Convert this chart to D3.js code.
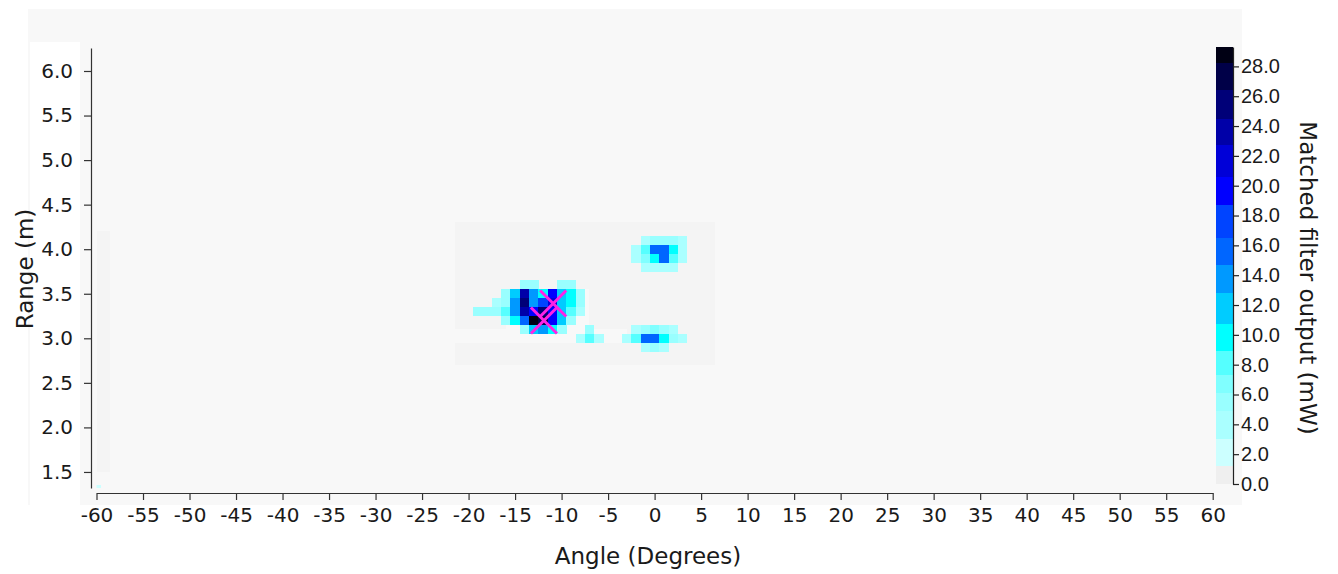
<!DOCTYPE html>
<html>
<head>
<meta charset="utf-8">
<script src="https://cdn.jsdelivr.net/npm/d3@7"></script>
<style>
  html, body { margin: 0; padding: 0; background: #ffffff; }
  svg { display: block; font-family: "DejaVu Sans", Verdana, sans-serif; }
</style>
</head>
<body>
<svg id="chart" width="1338" height="574"></svg>
<script>
// ---------------- DATA ----------------
const xTicks = [-60,-55,-50,-45,-40,-35,-30,-25,-20,-15,-10,-5,0,5,10,15,20,25,30,35,40,45,50,55,60];
const yTicks = [1.5,2.0,2.5,3.0,3.5,4.0,4.5,5.0,5.5,6.0];
const cbTicks = [0,2,4,6,8,10,12,14,16,18,20,22,24,26,28];

// colour band thresholds (mW)
const levels = [1.2,3.0,4.9,6.1,7.3,8.9,10.7,12.8,14.7,16.5,18.7,20.6,22.7,24.5,26.4,28.2];
const bandColors = ["#efefef","#ccffff","#aaffff","#99ffff","#80ffff","#55ffff","#00ffff","#00ccff",
                    "#0099ff","#0066ff","#0044ff","#0000ff","#0000d8","#0000a8","#000078","#000048","#000014"];
const valueMax = 29.3;

// faint low-level returns: [angleFrom, angleTo, rangeFrom, rangeTo, value]
const lowPatches = [
  [-21.5, 6.5, 3.55, 4.3, 0.5],
  [-21.5, -16, 3.1, 3.55, 0.5],
  [-7, 6.5, 3.1, 3.55, 0.5],
  [-21.5, 6.5, 2.7, 2.95, 0.5],
  [-3, 6.5, 2.95, 3.1, 0.5],
  [-60, -58.5, 1.5, 4.2, 0.5]
];

// matched filter output cells: angle (deg), range (m), value (mW)
const cellAngles = [
  -14,-13,-10,-9,
  -16,-15,-14,-13,-12,-11,-10,-9,-8,
  -17,-16,-15,-14,-13,-12,-11,-10,-9,-8,
  -19,-18,-17,-16,-15,-14,-13,-12,-11,-10,-9,-8,
  -16,-15,-14,-13,-12,-11,-10,-9,
  -14,-13,-12,-11,-10,
  -7,
  -8,-7,-6,
  -1,0,1,2,3,
  -2,-1,0,1,2,3,
  -2,-1,0,1,2,3,
  -1,0,1,2,
  -2,-1,0,1,2,
  -3,-2,-1,0,1,2,3,
  -1,0,1,
  -60
];
const cellRanges = [
  3.6,3.6,3.6,3.6,
  3.5,3.5,3.5,3.5,3.5,3.5,3.5,3.5,3.5,
  3.4,3.4,3.4,3.4,3.4,3.4,3.4,3.4,3.4,3.4,
  3.3,3.3,3.3,3.3,3.3,3.3,3.3,3.3,3.3,3.3,3.3,3.3,
  3.2,3.2,3.2,3.2,3.2,3.2,3.2,3.2,
  3.1,3.1,3.1,3.1,3.1,
  3.1,
  3.0,3.0,3.0,
  4.1,4.1,4.1,4.1,4.1,
  4.0,4.0,4.0,4.0,4.0,4.0,
  3.9,3.9,3.9,3.9,3.9,3.9,
  3.8,3.8,3.8,3.8,
  3.1,3.1,3.1,3.1,3.1,
  3.0,3.0,3.0,3.0,3.0,3.0,3.0,
  2.9,2.9,2.9,
  1.3
];
const cellValues = [
  5,6,6,5,
  5,12,24,13,10,19,12,9,5,
  4,6,13,25,14,17,21,12,9,5,
  5,5,6,8,13,24,20,25,20,12,8,4,
  5,9,16,29,28,19,11,6,
  6,12,14,10,5,
  5,
  4,8,4,
  4,6,6,5,3,
  4,8,16,16,9,4,
  3,7,10,15,8,4,
  3,4,4,3,
  3,6,7,5,3,
  4,8,15,15,10,6,4,
  4,5,4,
  2
];

// detected targets (magenta crosses)
const targetAngles = [-11.9, -10.9];
const targetRanges = [3.20, 3.39];

// ---------------- CHART ----------------
const svg = d3.select("#chart");
const fmtPlain = d => String(d);

// background panel
svg.append("rect").attr("x", 28).attr("y", 9).attr("width", 1214).attr("height", 496).attr("fill", "#f8f8f8");
svg.append("rect").attr("x", 30).attr("y", 42).attr("width", 50).attr("height", 463).attr("fill", "#ffffff");

const x = d3.scaleLinear().domain([-60, 60]).range([96.5, 1212.7]);
const y = d3.scaleLinear().domain([1.32, 6.258]).range([488, 48]);
const color = d3.scaleThreshold().domain(levels).range(bandColors);

svg.append("clipPath").attr("id", "plotclip")
  .append("rect").attr("x", x(-60)).attr("y", y(6.258)).attr("width", x(60) - x(-60)).attr("height", y(1.32) - y(6.258));

const plot = svg.append("g").attr("clip-path", "url(#plotclip)");

plot.selectAll("rect.low").data(lowPatches).join("rect")
  .attr("class", "low")
  .attr("x", d => x(d[0]))
  .attr("width", d => x(d[1]) - x(d[0]))
  .attr("y", d => y(d[3]))
  .attr("height", d => y(d[2]) - y(d[3]))
  .attr("fill", d => color(d[4]))
  .attr("fill-opacity", 0.45)
  .attr("shape-rendering", "crispEdges");

const cells = cellAngles.map((a, i) => ({a: a, r: cellRanges[i], v: cellValues[i]}));
plot.selectAll("rect.cell").data(cells).join("rect")
  .attr("class", "cell")
  .attr("x", d => x(d.a - 0.5))
  .attr("width", d => x(d.a + 0.5) - x(d.a - 0.5) + 0.3)
  .attr("y", d => y(d.r + 0.05))
  .attr("height", d => y(d.r - 0.05) - y(d.r + 0.05) + 0.3)
  .attr("fill", d => color(d.v))
  .attr("shape-rendering", "crispEdges");

// target markers
const targets = targetAngles.map((a, i) => ({a: a, r: targetRanges[i]}));
const mk = 13;
const tg = plot.selectAll("g.target").data(targets).join("g")
  .attr("class", "target")
  .attr("transform", d => `translate(${x(d.a)},${y(d.r)})`);
tg.append("line").attr("x1", -mk).attr("y1", -mk).attr("x2", mk).attr("y2", mk)
  .attr("stroke", "#ff22e6").attr("stroke-width", 3);
tg.append("line").attr("x1", -mk).attr("y1", mk).attr("x2", mk).attr("y2", -mk)
  .attr("stroke", "#ff22e6").attr("stroke-width", 3);

// axes
const xAxis = svg.append("g").attr("transform", "translate(0,493)")
  .call(d3.axisBottom(x).tickValues(xTicks).tickSize(7).tickSizeOuter(0).tickFormat(fmtPlain));
const yAxis = svg.append("g").attr("transform", "translate(91,0)")
  .call(d3.axisLeft(y).tickValues(yTicks).tickSize(7).tickSizeOuter(0).tickFormat(d => d.toFixed(1)));

[xAxis, yAxis].forEach(g => {
  g.selectAll("text").attr("font-size", 20).attr("font-family", "DejaVu Sans, sans-serif").attr("fill", "#1a1a1a");
  g.selectAll("line, path").attr("stroke", "#333").attr("stroke-width", 1.2);
});
xAxis.selectAll("text").attr("dy", "0.95em");
yAxis.selectAll("text").attr("dx", "-8");

// axis titles
svg.append("text").attr("x", 648).attr("y", 564).attr("text-anchor", "middle")
  .attr("font-size", 23).attr("fill", "#1a1a1a").text("Angle (Degrees)");
svg.append("text").attr("transform", "translate(33,269) rotate(-90)").attr("text-anchor", "middle")
  .attr("font-size", 23).attr("fill", "#1a1a1a").text("Range (m)");

// colour bar
const cb = d3.scaleLinear().domain([0, valueMax]).range([484, 47]);
const bandEdges = [0].concat(levels).concat([valueMax]);
const bands = bandColors.map((c, i) => ({lo: bandEdges[i], hi: bandEdges[i + 1], c: c}));
svg.append("g").selectAll("rect").data(bands).join("rect")
  .attr("x", 1216).attr("width", 17)
  .attr("y", d => cb(d.hi))
  .attr("height", d => cb(d.lo) - cb(d.hi))
  .attr("fill", d => d.c)
  .attr("shape-rendering", "crispEdges");

const cbAxis = svg.append("g").attr("transform", "translate(1233,0)")
  .call(d3.axisRight(cb).tickValues(cbTicks).tickSize(6).tickSizeOuter(0).tickFormat(d => d.toFixed(1)));
cbAxis.selectAll("text").attr("font-size", 20).attr("fill", "#1a1a1a").attr("dx", "-1");
cbAxis.selectAll("line, path").attr("stroke", "#222").attr("stroke-width", 1.2);

svg.append("text").attr("transform", "translate(1300,278) rotate(90)").attr("text-anchor", "middle")
  .attr("font-size", 23).attr("fill", "#1a1a1a").text("Matched filter output (mW)");
</script>
</body>
</html>
